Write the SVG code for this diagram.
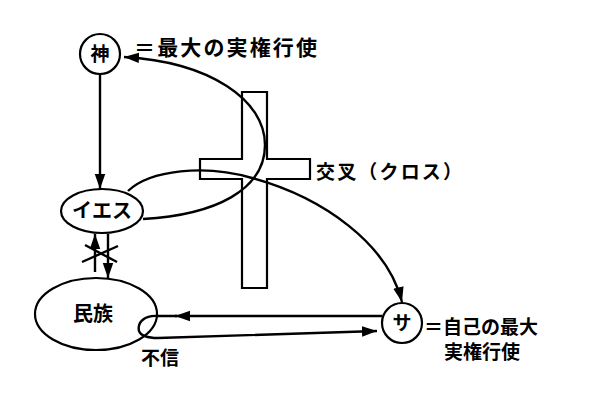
<svg xmlns="http://www.w3.org/2000/svg" width="600" height="403" viewBox="0 0 600 403">
<defs>
<style>
.ln{fill:none;stroke:#000;stroke-width:2.4}
.nd{fill:#fff;stroke:#000;stroke-width:2.2}
.tx{font-family:"Noto Sans CJK JP","Noto Sans CJK SC",sans-serif;fill:#000;font-weight:700}
</style>
<marker id="ahb" viewBox="0 0 10 10" refX="10" refY="5" markerWidth="15" markerHeight="15" markerUnits="userSpaceOnUse" orient="auto">
<path d="M0,1.5 L10,5 L0,8.5 z" fill="#000"/>
</marker>
</defs>
<rect width="600" height="403" fill="#fff"/>
<g id="cross">
<path class="nd" d="M242,92 H267 V159 H310 V179 H267 V288 H242 V179 H200 V159 H242 Z"/>
</g>
<g id="connectors">
<line class="ln" x1="100" y1="74" x2="100" y2="189" marker-end="url(#ahb)"/>
<path class="ln" d="M143,219 C215,215 265,190 265,145 C265,100 210,62 124,57" marker-end="url(#ahb)"/>
<path class="ln" d="M128,191 C150,170 205,164 252,178 C325,198 388,245 402,302" marker-end="url(#ahb)"/>
<line class="ln" x1="95" y1="272" x2="95" y2="234" marker-end="url(#ahb)"/>
<line class="ln" x1="108" y1="234" x2="108" y2="278" marker-end="url(#ahb)"/>
<line class="ln" x1="82" y1="262" x2="118" y2="246"/>
<line class="ln" x1="85" y1="245" x2="117" y2="262"/>
<path class="ln" d="M382,316 H175" marker-end="url(#ahb)"/>
<path class="ln" d="M177,316 H158 C145,315 137,322 139,331 C141,336 148,338 158,338 L377,331" marker-end="url(#ahb)"/>
</g>
<g id="node-kami">
<circle class="nd" cx="100" cy="54" r="20"/>
<text class="tx" x="100" y="61" font-size="19" text-anchor="middle">神</text>
</g>
<g id="node-iesu">
<ellipse class="nd" cx="102" cy="211" rx="41" ry="22"/>
<text class="tx" x="102" y="218" font-size="20" text-anchor="middle">イエス</text>
</g>
<g id="node-minzoku">
<ellipse class="nd" cx="96" cy="314" rx="61" ry="36" style="fill:none"/>
<text class="tx" x="93" y="321" font-size="20" text-anchor="middle">民族</text>
</g>
<g id="node-sa">
<circle class="nd" cx="402" cy="323" r="20"/>
<text class="tx" x="402" y="330" font-size="19" text-anchor="middle">サ</text>
</g>
<g id="labels">
<text class="tx" x="134" y="55" font-size="21" textLength="183" lengthAdjust="spacing">＝最大の実権行使</text>
<text class="tx" x="316" y="179" font-size="19" textLength="146" lengthAdjust="spacing">交叉（クロス）</text>
<text class="tx" x="424" y="334" font-size="19">＝自己の最大</text>
<text class="tx" x="444" y="359" font-size="19">実権行使</text>
<text class="tx" x="141" y="365" font-size="19">不信</text>
</g>
</svg>
